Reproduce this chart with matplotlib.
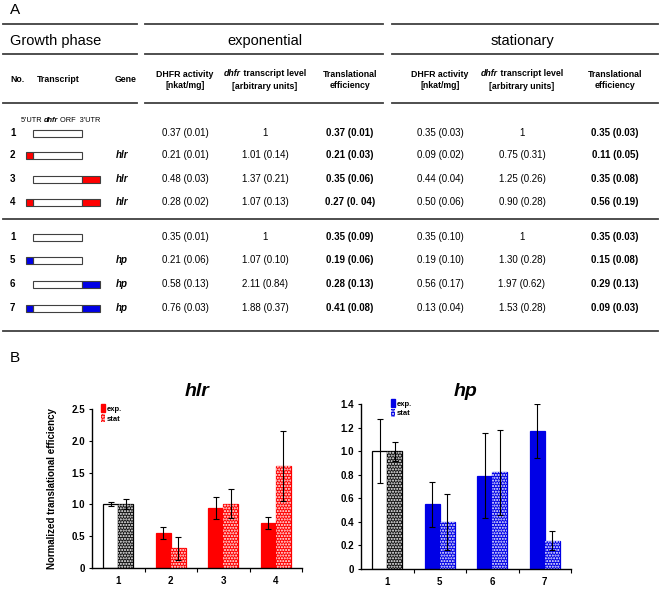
import numpy as np
import matplotlib.pyplot as plt
from matplotlib.patches import Rectangle, Patch

plt.rcParams['font.family'] = ['Liberation Sans', 'DejaVu Sans']
plt.rcParams['hatch.linewidth'] = 1.0

# ---- table data (panel A) ----
row_no = ['1', '2', '3', '4', '1', '5', '6', '7']
genes = ['', 'hlr', 'hlr', 'hlr', '', 'hp', 'hp', 'hp']
has_5utr = [False, True, False, True, False, True, False, True]
has_3utr = [False, False, True, True, False, False, True, True]
utr_color = ['none', 'red', 'red', 'red', 'none', 'blue', 'blue', 'blue']

exp_dhfr = ['0.37 (0.01)', '0.21 (0.01)', '0.48 (0.03)', '0.28 (0.02)',
            '0.35 (0.01)', '0.21 (0.06)', '0.58 (0.13)', '0.76 (0.03)']
exp_mrna = ['1', '1.01 (0.14)', '1.37 (0.21)', '1.07 (0.13)',
            '1', '1.07 (0.10)', '2.11 (0.84)', '1.88 (0.37)']
exp_te = ['0.37 (0.01)', '0.21 (0.03)', '0.35 (0.06)', '0.27 (0. 04)',
          '0.35 (0.09)', '0.19 (0.06)', '0.28 (0.13)', '0.41 (0.08)']
stat_dhfr = ['0.35 (0.03)', '0.09 (0.02)', '0.44 (0.04)', '0.50 (0.06)',
             '0.35 (0.10)', '0.19 (0.10)', '0.56 (0.17)', '0.13 (0.04)']
stat_mrna = ['1', '0.75 (0.31)', '1.25 (0.26)', '0.90 (0.28)',
             '1', '1.30 (0.28)', '1.97 (0.62)', '1.53 (0.28)']
stat_te = ['0.35 (0.03)', '0.11 (0.05)', '0.35 (0.08)', '0.56 (0.19)',
           '0.35 (0.03)', '0.15 (0.08)', '0.29 (0.13)', '0.09 (0.03)']

# ---- bar data (panel B) ----
hlr_labels = ['1', '2', '3', '4']
hlr_exp = [1.0, 0.55, 0.94, 0.71]
hlr_exp_err = [0.03, 0.09, 0.17, 0.09]
hlr_stat = [1.0, 0.31, 1.01, 1.60]
hlr_stat_err = [0.08, 0.18, 0.23, 0.55]

hp_labels = ['1', '5', '6', '7']
hp_exp = [1.0, 0.55, 0.79, 1.17]
hp_exp_err = [0.27, 0.19, 0.36, 0.23]
hp_stat = [1.0, 0.40, 0.82, 0.24]
hp_stat_err = [0.08, 0.24, 0.36, 0.08]

colors = {'red': '#ff0000', 'blue': '#0000e6', 'none': 'white'}

fig = plt.figure(figsize=(6.61, 5.94), dpi=100)
tab = fig.add_axes([0, 0, 1, 1])
tab.set_xlim(0, 661)
tab.set_ylim(594, 0)
tab.axis('off')
renderer = fig.canvas.get_renderer()


def mixed(xc, y, parts, size):
    # draw text pieces with different styles, centred on xc
    objs = [tab.text(0, y, s, fontsize=size, style=st, weight=wt, ha='left', va='center')
            for s, st, wt in parts]
    widths = [t.get_window_extent(renderer).width for t in objs]
    x = xc - sum(widths) / 2
    for t, w in zip(objs, widths):
        t.set_x(x)
        x += w


line_col = '#404040'
segments = [(3, 137), (145, 383), (392, 658)]
for y in [24, 54, 103]:
    for a, b in segments:
        tab.plot([a, b], [y, y], color=line_col, lw=1.3)
for y in [219, 331]:
    tab.plot([3, 658], [y, y], color=line_col, lw=1.3)

tab.text(10, 10, 'A', fontsize=11, va='center')
tab.text(10, 41, 'Growth phase', fontsize=10.5, va='center')
tab.text(265, 41, 'exponential', fontsize=10.5, va='center', ha='center')
tab.text(522, 41, 'stationary', fontsize=10.5, va='center', ha='center')

hs = 6.3
tab.text(10, 80, 'No.', fontsize=hs, weight='bold', va='center')
tab.text(37, 80, 'Transcript', fontsize=hs, weight='bold', va='center')
tab.text(115, 80, 'Gene', fontsize=hs, weight='bold', va='center')

col_x = [185, 265, 350, 440, 522, 615]
for k in range(2):
    xd, xm, xt = col_x[3 * k:3 * k + 3]
    tab.text(xd, 80, 'DHFR activity\n[nkat/mg]', fontsize=hs, weight='bold',
             ha='center', va='center', linespacing=1.3)
    mixed(xm, 74, [('dhfr', 'italic', 'bold'), (' transcript level', 'normal', 'bold')], hs)
    tab.text(xm, 86.5, '[arbitrary units]', fontsize=hs, weight='bold', ha='center', va='center')
    tab.text(xt, 80, 'Translational\nefficiency', fontsize=hs, weight='bold',
             ha='center', va='center', linespacing=1.3)

mixed(61, 121, [("5'UTR ", 'normal', 'normal'), ('dhfr', 'italic', 'bold'),
                (" ORF  3'UTR", 'normal', 'normal')], 5.3)

row_y = [133, 155.5, 179, 202, 237, 260, 284, 308]
vs = 7
for i, y in enumerate(row_y):
    tab.text(10, y, row_no[i], fontsize=vs, weight='bold', va='center')
    # transcript schematic
    h = 7
    tab.add_patch(Rectangle((33, y - h / 2), 49, h, facecolor='white', edgecolor=line_col, lw=0.8))
    if has_5utr[i]:
        tab.add_patch(Rectangle((26, y - h / 2), 7, h, facecolor=colors[utr_color[i]],
                                edgecolor=line_col, lw=0.8))
    if has_3utr[i]:
        tab.add_patch(Rectangle((82, y - h / 2), 18, h, facecolor=colors[utr_color[i]],
                                edgecolor=line_col, lw=0.8))
    tab.text(116, y, genes[i], fontsize=vs, weight='bold', style='italic', va='center')
    vals = [exp_dhfr[i], exp_mrna[i], exp_te[i], stat_dhfr[i], stat_mrna[i], stat_te[i]]
    for j, v in enumerate(vals):
        tab.text(col_x[j], y, v, fontsize=vs, ha='center', va='center',
                 weight='bold' if j in (2, 5) else 'normal')

tab.text(10, 358, 'B', fontsize=11, va='center')


def bar_panel(ax, labels, e_vals, e_err, s_vals, s_err, color, top, yticks, ytl, title, leg_anchor):
    n = len(labels)
    x = np.arange(1, n + 1)
    w = 0.29
    c = colors[color]
    ax.bar(x - w / 2, e_vals, w, color=['white'] + [c] * (n - 1),
           edgecolor=['black'] + [c] * (n - 1), linewidth=0.9, zorder=2)
    ax.bar(x + w / 2, s_vals, w, color=['#151515'] + [c] * (n - 1),
           edgecolor=['black'] + [c] * (n - 1), linewidth=0.9, zorder=2)
    ax.bar(x + w / 2, s_vals, w, color='none', edgecolor='white', hatch='......',
           linewidth=0, zorder=3)
    ax.errorbar(x - w / 2, e_vals, yerr=e_err, fmt='none', ecolor='black',
                elinewidth=0.8, capsize=2, capthick=0.8, zorder=4)
    ax.errorbar(x + w / 2, s_vals, yerr=s_err, fmt='none', ecolor='black',
                elinewidth=0.8, capsize=2, capthick=0.8, zorder=4)
    ax.set_xlim(0.5, n + 0.5)
    ax.set_ylim(0, top)
    ax.set_xticks(x)
    ax.set_xticklabels(labels, fontsize=7, weight='bold')
    ax.set_xticks(np.arange(1.5, n + 0.6, 1), minor=True)
    ax.tick_params(axis='x', which='major', length=0, pad=6)
    ax.tick_params(axis='x', which='minor', length=3, width=0.8)
    ax.set_yticks(yticks)
    ax.set_yticklabels(ytl, fontsize=7, weight='bold')
    ax.tick_params(axis='y', length=2, width=0.8, pad=3)
    for s in ['top', 'right']:
        ax.spines[s].set_visible(False)
    for s in ['left', 'bottom']:
        ax.spines[s].set_linewidth(1.0)
    bb = ax.get_position()
    fig.text(bb.x0 + bb.width / 2, 1 - 392 / 594, title, fontsize=14, weight='bold',
             style='italic', ha='center', va='center')
    handles = [Patch(facecolor=c, edgecolor=c),
               Patch(facecolor=c, edgecolor='white', hatch='......', linewidth=0)]
    leg = ax.legend(handles, ['exp.', 'stat'], loc='upper left', bbox_to_anchor=leg_anchor,
                    frameon=False, fontsize=5.5, handlelength=0.5, handleheight=1.3,
                    handletextpad=0.2, labelspacing=0.15, borderaxespad=0)
    for t in leg.get_texts():
        t.set_weight('bold')


ax1 = fig.add_axes([92 / 661, 26 / 594, 210 / 661, 159 / 594])
bar_panel(ax1, hlr_labels, hlr_exp, hlr_exp_err, hlr_stat, hlr_stat_err, 'red', 2.5,
          [0, 0.5, 1.0, 1.5, 2.0, 2.5], ['0', '0.5', '1.0', '1.5', '2.0', '2.5'],
          'hlr', (0.03, 1.05))
ax1.set_ylabel('Normalized translational efficiency', fontsize=7, weight='bold')
ax1.yaxis.set_label_coords(-0.165, 0.5)

ax2 = fig.add_axes([361 / 661, 25 / 594, 210 / 661, 165 / 594])
bar_panel(ax2, hp_labels, hp_exp, hp_exp_err, hp_stat, hp_stat_err, 'blue', 1.4,
          [0, 0.2, 0.4, 0.6, 0.8, 1.0, 1.2, 1.4],
          ['0', '0.2', '0.4', '0.6', '0.8', '1.0', '1.2', '1.4'],
          'hp', (0.13, 1.05))

fig.savefig('out.png', dpi=100)
